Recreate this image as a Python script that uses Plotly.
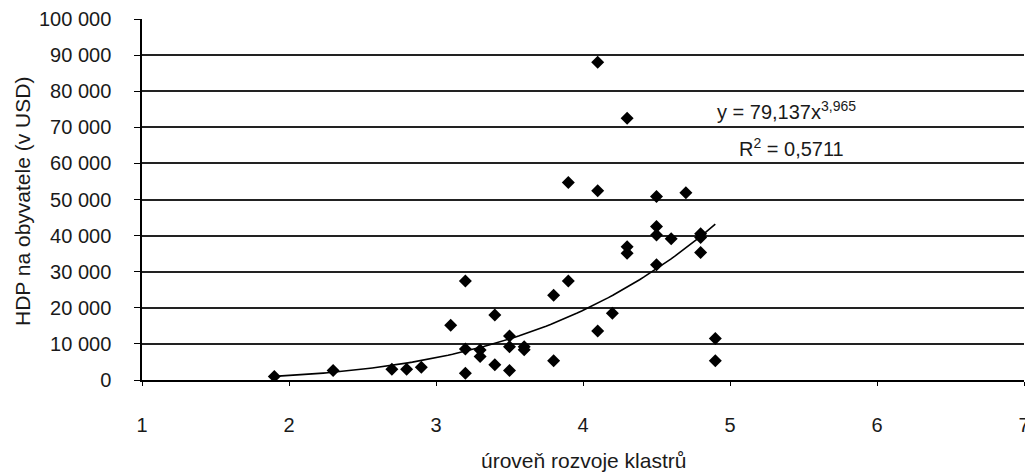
import numpy as np
import plotly.graph_objects as go

# data
x_vals = [1.9, 2.3, 2.7, 2.8, 2.9,
          3.1, 3.2, 3.2, 3.2, 3.3, 3.3, 3.4, 3.4, 3.5, 3.5, 3.5,
          3.6, 3.6, 3.8, 3.8, 3.9, 3.9, 4.1, 4.1, 4.1, 4.2,
          4.3, 4.3, 4.3, 4.5, 4.5, 4.5, 4.5, 4.6, 4.7, 4.8, 4.8, 4.8,
          4.9, 4.9]
y_vals = [1000, 2600, 3000, 3000, 3500,
          15200, 27400, 8600, 1900, 8300, 6500, 18000, 4200, 12200, 9200, 2600,
          9200, 8400, 23500, 5300, 54700, 27400, 88000, 52400, 13600, 18500,
          72500, 36900, 35100, 50800, 42500, 40200, 31900, 39100, 51900, 40500, 39500, 35300,
          11500, 5300]

fit_a = 79.137
fit_b = 3.965
fit_range = [1.9, 4.9]

y_ticks = [0, 10000, 20000, 30000, 40000, 50000, 60000, 70000, 80000, 90000, 100000]
y_ticktext = ["0", "10 000", "20 000", "30 000", "40 000", "50 000",
              "60 000", "70 000", "80 000", "90 000", "100 000"]
x_ticks = [1, 2, 3, 4, 5, 6, 7]

xf = np.linspace(fit_range[0], fit_range[1], 100)
yf = fit_a * xf ** fit_b

FONT = "Liberation Sans, Arial, sans-serif"
W, H = 1025, 473
L, R, T, B = 142, 1, 19, 93
TXT = "#1a1a1a"

fig = go.Figure()
fig.add_trace(go.Scatter(x=xf, y=yf, mode="lines",
                         line=dict(color="black", width=1.6), hoverinfo="skip"))
fig.add_trace(go.Scatter(x=x_vals, y=y_vals, mode="markers",
                         marker=dict(symbol="diamond", size=10, color="black")))

fig.update_layout(
    width=W, height=H,
    margin=dict(l=L, r=R, t=T, b=B, autoexpand=False),
    paper_bgcolor="white", plot_bgcolor="white",
    showlegend=False,
    font=dict(family=FONT, size=20, color=TXT),
    xaxis=dict(range=[1, 7], tickvals=x_ticks, showgrid=False, zeroline=False,
               automargin=False, ticklabeloverflow="allow",
               showline=True, linecolor="black", linewidth=1.5,
               ticks="outside", ticklen=4, tickcolor="black",
               ticklabelstandoff=22,
               tickfont=dict(size=20)),
    yaxis=dict(range=[0, 100000], tickvals=y_ticks, ticktext=y_ticktext,
               showgrid=True, gridcolor="#222", gridwidth=1.5, zeroline=False,
               automargin=False,
               showline=True, linecolor="black", linewidth=1.5,
               ticks="outside", ticklen=6, tickcolor="black",
               ticklabelstandoff=19,
               tickfont=dict(size=20)),
)

def px_to_paper(px, py):
    return (px - L) / (W - L - R), (H - B - py) / (H - T - B)

ax, ay = px_to_paper(715, 110)
fig.add_annotation(x=ax, y=ay, xref="paper", yref="paper", xanchor="left", yanchor="middle",
                   text="y = 79,137x<sup>3,965</sup>", showarrow=False,
                   font=dict(size=20, color=TXT))
ax, ay = px_to_paper(737, 147)
fig.add_annotation(x=ax, y=ay, xref="paper", yref="paper", xanchor="left", yanchor="middle",
                   text="R<sup>2</sup> = 0,5711", showarrow=False,
                   font=dict(size=20, color=TXT))
ax, ay = px_to_paper(583, 460)
fig.add_annotation(x=ax, y=ay, xref="paper", yref="paper", xanchor="center", yanchor="middle",
                   text="úroveň rozvoje klastrů", showarrow=False,
                   font=dict(size=21, color=TXT))
ax, ay = px_to_paper(22, 201)
fig.add_annotation(x=ax, y=ay, xref="paper", yref="paper", xanchor="center", yanchor="middle",
                   textangle=-90,
                   text="HDP na obyvatele (v USD)", showarrow=False,
                   font=dict(size=21, color=TXT))

fig.write_html("out.html", config={"displayModeBar": False},
               post_script="document.body.style.margin='0';")
